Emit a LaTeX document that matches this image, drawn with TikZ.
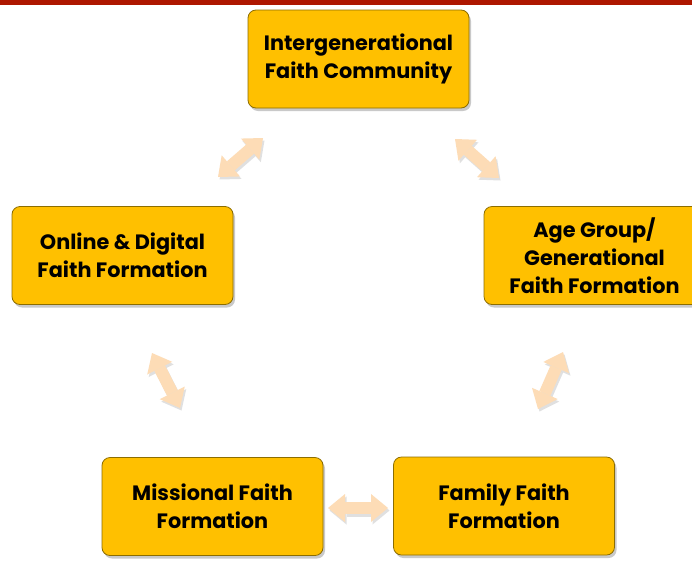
\documentclass[tikz,border=0pt]{standalone}
\usepackage{fontspec}
\setmainfont{Poppins}
\usetikzlibrary{arrows.meta,shadows}
\definecolor{boxfill}{HTML}{FFC000}
\definecolor{boxline}{HTML}{8C6D00}
\definecolor{arrowfill}{HTML}{FDDCB6}
\definecolor{topbar}{HTML}{AE1700}
\tikzset{
  stagebox/.style={rounded corners=8pt, fill=boxfill, draw=boxline, line width=0.8pt,
    minimum width=221pt, minimum height=98pt, align=center, inner sep=2pt,
    font=\bfseries\fontsize{20.8}{28}\selectfont, text=black,
    drop shadow={shadow xshift=2pt, shadow yshift=-3pt, opacity=0.35, fill=black!60}},
  linkarrow/.style={line width=12pt, draw=arrowfill,
    {Triangle[length=17pt,width=28pt,line width=0pt]}-{Triangle[length=17pt,width=28pt,line width=0pt]}},
  linkshadow/.style={line width=12pt, draw=black!40, opacity=0.3,
    {Triangle[length=17pt,width=28pt,line width=0pt]}-{Triangle[length=17pt,width=28pt,line width=0pt]}}
}
\begin{document}
\begin{tikzpicture}[x=1pt,y=-1pt]
\useasboundingbox (0,0) rectangle (692,560);
\clip (0,0) rectangle (692,560);
\fill[white] (0,0) rectangle (692,560);
\fill[topbar] (0,0) rectangle (692,4.5);
% boxes
\node[stagebox] (A) at (358.5,59) {Intergenerational\\Faith Community};
\node[stagebox] (B) at (122.5,255.5) {Online \& Digital\\Faith Formation};
\node[stagebox] (C) at (594.5,255.5) {Age Group/\\Generational\\Faith Formation};
\node[stagebox] (D) at (212.5,506.5) {Missional Faith\\Formation};
\node[stagebox] (E) at (504,506) {Family Faith\\Formation};
% arrow end points
\coordinate (ab1) at (263,138); \coordinate (ab2) at (218,177);
\coordinate (ac1) at (455,139); \coordinate (ac2) at (499,178);
\coordinate (ce1) at (563,352); \coordinate (ce2) at (538,409);
\coordinate (bd1) at (152,353); \coordinate (bd2) at (180,408);
\coordinate (de1) at (328,508); \coordinate (de2) at (388,508);
% shadows
\foreach \p/\q in {ab1/ab2, ac1/ac2, ce1/ce2, bd1/bd2, de1/de2}{
  \draw[linkshadow] ([shift={(1.5,2.5)}]\p) -- ([shift={(1.5,2.5)}]\q);
}
\foreach \p/\q in {ab1/ab2, ac1/ac2, ce1/ce2, bd1/bd2, de1/de2}{
  \draw[linkarrow] (\p) -- (\q);
}
\end{tikzpicture}
\end{document}
